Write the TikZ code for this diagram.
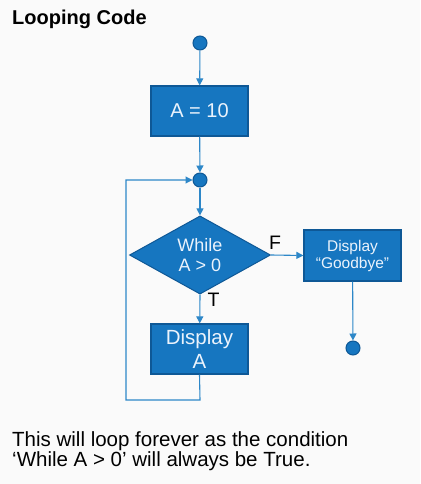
\documentclass[tikz,border=0pt]{standalone}
\usepackage{fontspec}
\setmainfont{Liberation Sans}
\usetikzlibrary{shapes.geometric,arrows.meta}
\definecolor{boxfill}{RGB}{22,118,192}
\definecolor{boxedge}{RGB}{14,88,150}
\definecolor{linecol}{RGB}{45,135,200}
\definecolor{boxtext}{RGB}{235,243,252}
\definecolor{bgcol}{RGB}{250,250,250}
\tikzset{
  x=1pt, y=-1pt,
  procbox/.style={rectangle, draw=boxedge, line width=1.2pt, fill=boxfill, text=boxtext,
    minimum width=97pt, minimum height=50pt, inner sep=0pt, align=center},
  dot/.style={circle, draw=boxedge, line width=1pt, fill=boxfill, minimum size=14pt, inner sep=0pt},
  decide/.style={diamond, draw=boxedge, line width=1pt, fill=boxfill, text=boxtext,
    minimum width=141pt, minimum height=64pt, inner sep=0pt, align=center},
  flow/.style={draw=linecol, line width=1.1pt, -{Triangle[length=7pt,width=7pt]}},
  lbl/.style={font=\fontsize{19.5}{19.5}\selectfont, text=black, inner sep=0pt},
}
\begin{document}
\begin{tikzpicture}
\fill[bgcol] (0,0) rectangle (420,484);
\useasboundingbox (0,0) rectangle (420,484);

\node[anchor=base west, inner sep=0pt, font=\fontsize{20}{20}\selectfont\bfseries] (title) at (12,25) {Looping Code};

\node[dot] (start) at (200,43) {};
\node[procbox, font=\fontsize{20}{20}\selectfont] (a10) at (199.5,111) {A = 10};
\node[dot] (junc) at (200,180) {};
\node[decide, font=\fontsize{18}{20}\selectfont] (dia) at (200,255) {While\\A > 0};
\node[procbox, minimum height=51pt, font=\fontsize{15.5}{17}\selectfont] (bye) at (352.5,255.5) {Display\\“Goodbye”};
\node[dot] (endc) at (353,348) {};
\node[procbox, font=\fontsize{20.5}{24}\selectfont] (dispA) at (199.5,349) {Display\\A};

\node[lbl, anchor=base] (F) at (275,249) {F};
\node[lbl, anchor=base] (T) at (213.5,306) {T};

\coordinate (lb) at (200,400);
\coordinate (ll) at (126,400);
\coordinate (lt) at (126,180);

\draw[flow] (start) -- (a10);
\draw[flow] (a10) -- (junc);
\draw[flow] (junc) -- (dia);
\draw[flow] (dia.east) -- (bye.west);
\draw[flow] (dia.south) -- (dispA);
\draw[flow] (bye) -- (endc);
\draw[flow] (dispA.south) -- (lb) -- (ll) -- (lt) -- (junc);

\node[anchor=base west, inner sep=0pt, font=\fontsize{20.5}{20}\selectfont] (txt1) at (12,446) {This will loop forever as the condition};
\node[anchor=base west, inner sep=0pt, font=\fontsize{20.5}{20}\selectfont] (txt2) at (12,466) {‘While A > 0’ will always be True.};
\end{tikzpicture}
\end{document}
